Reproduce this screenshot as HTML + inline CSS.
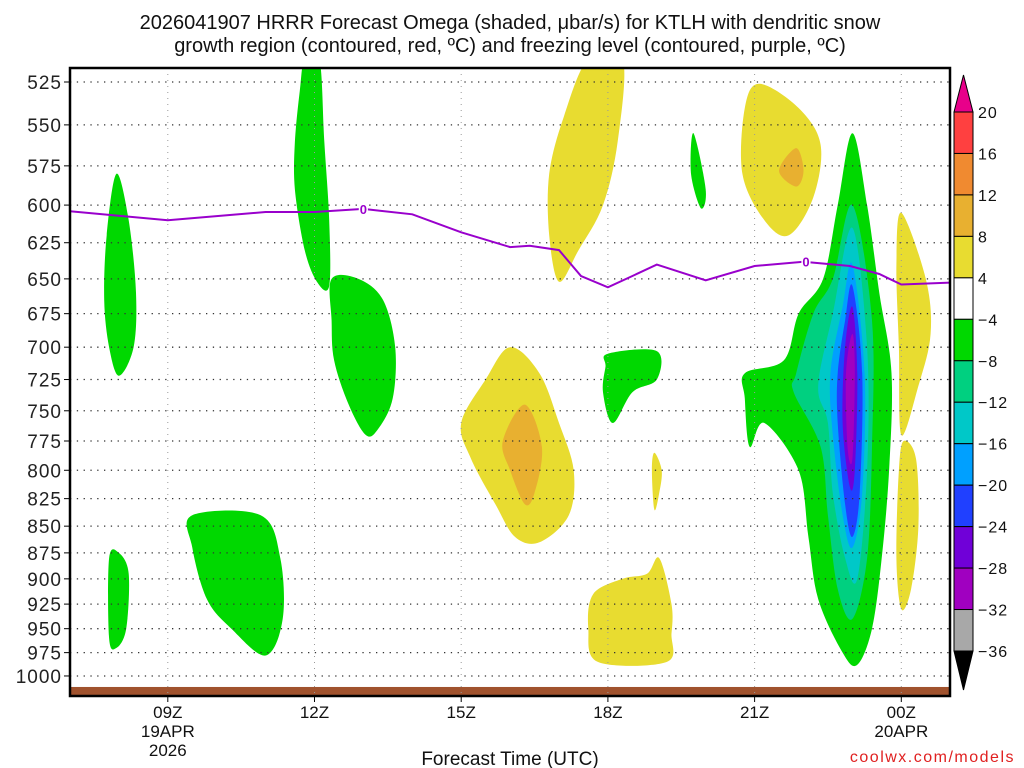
<!DOCTYPE html>
<html><head><meta charset="utf-8"><style>
html,body{margin:0;padding:0;background:#fff;width:1024px;height:768px;overflow:hidden}
svg{display:block;font-family:"Liberation Sans","DejaVu Sans",sans-serif}
</style></head><body>
<svg id="chart" width="1024" height="768" viewBox="0 0 1024 768">
<text x="510" y="29" font-size="20" text-anchor="middle" fill="#111">2026041907 HRRR Forecast Omega (shaded, μbar/s) for KTLH with dendritic snow</text>
<text x="510" y="52" font-size="20" text-anchor="middle" fill="#111">growth region (contoured, red, ºC) and freezing level (contoured, purple, ºC)</text>
<g id="plot"></g>
<text x="510" y="765" font-size="19" text-anchor="middle" fill="#111">Forecast Time (UTC)</text>
<text x="1015" y="762" font-size="16" text-anchor="end" fill="#e02020" letter-spacing="1.5">coolwx.com/models</text>
</svg>
<script>
const pTicks=[525,550,575,600,625,650,675,700,725,750,775,800,825,850,875,900,925,950,975,1000];
const xTickHours=[9,12,15,18,21,24];
const xTickLabels=[["09Z","19APR","2026"],["12Z"],["15Z"],["18Z"],["21Z"],["00Z","20APR"]];
const cbLevels=["20","16","12","8","4","−4","−8","−12","−16","−20","−24","−28","−32","−36"];
const cbColors=["#ff4040","#f08a30","#e8b030","#e8dc30","#ffffff","#00d800","#00d080","#00c8c8","#00a0ff","#2040ff","#7000d8","#a000c0","#a8a8a8"];
// shaded omega regions: [hourUTC (24=00Z), hPa]
const greenA=[[7.95,580],[8.2,610],[8.35,660],[8.3,700],[8.0,722],[7.8,700],[7.7,665],[7.75,620]];
const green12=[[11.8,512],[12.1,512],[12.2,560],[12.3,610],[12.3,655],[12.05,652],[11.8,630],[11.6,590],[11.6,560],[11.7,530]];
const green13=[[12.35,650],[12.9,650],[13.4,665],[13.65,700],[13.6,740],[13.3,765],[13.05,770],[12.7,745],[12.4,710],[12.35,680]];
const greenLow=[[9.5,840],[10.9,840],[11.3,880],[11.35,940],[11.0,978],[10.3,950],[9.8,920],[9.5,870]];
const greenSmall=[[7.8,880],[8.0,875],[8.2,895],[8.15,950],[7.95,970],[7.8,960]];
const yellowTop17=[[17.6,512],[18.3,512],[18.2,560],[17.9,600],[17.4,630],[17.0,652],[16.8,620],[16.8,580],[17.1,545]];
const green20=[[19.75,555],[20.0,590],[19.9,602],[19.7,580]];
const yellow22=[[21.1,526],[21.9,540],[22.35,562],[22.2,595],[21.7,620],[21.2,610],[20.75,580],[20.8,540]];
const orange22=[[21.85,564],[22.0,578],[21.85,588],[21.5,578]];
const yellow16=[[16.0,700],[16.6,720],[17.0,760],[17.3,800],[17.2,840],[16.6,865],[16.1,860],[15.7,830],[15.2,790],[15.0,760],[15.5,725]];
const orange16=[[16.3,745],[16.65,780],[16.5,820],[16.3,830],[16.0,800],[15.85,775]];
const green18=[[18.0,705],[19.0,703],[19.0,725],[18.5,735],[18.1,760],[17.9,735],[17.95,715]];
const yellow19=[[18.95,785],[19.1,800],[19.05,820],[18.95,835],[18.9,800]];
const yellowLow18=[[19.05,880],[19.3,925],[19.3,955],[19.2,985],[17.8,985],[17.6,950],[17.7,915],[18.3,900],[18.8,895]];
const bigGreen=[[23.0,555],[23.3,600],[23.55,660],[23.8,720],[23.75,800],[23.6,880],[23.4,950],[23.1,988],[22.8,975],[22.3,920],[22.1,860],[21.9,800],[21.2,760],[20.9,780],[20.8,740],[20.8,720],[21.6,710],[21.9,675],[22.4,650],[22.7,600]];
const bigTeal=[[23.0,600],[23.4,680],[23.4,780],[23.3,880],[23.0,940],[22.7,910],[22.5,840],[22.35,780],[21.8,735],[21.85,720],[22.2,675],[22.6,650]];
const bigCyan=[[23.0,615],[23.3,700],[23.3,800],[23.1,900],[22.85,880],[22.6,820],[22.5,760],[22.3,730],[22.6,675]];
const bigSky=[[23.0,640],[23.25,720],[23.2,820],[23.0,870],[22.8,840],[22.6,770],[22.55,720],[22.8,670]];
const bigBlue=[[23.0,655],[23.2,720],[23.15,820],[23.0,860],[22.85,830],[22.7,760],[22.7,720],[22.85,680]];
const bigViolet=[[23.0,670],[23.1,720],[23.05,800],[22.95,815],[22.8,760],[22.85,700]];
const bigPurple=[[23.0,690],[23.05,720],[23.0,790],[22.9,780],[22.87,720]];
const yellow00a=[[24.0,605],[24.5,650],[24.6,690],[24.35,730],[24.0,770],[23.95,700],[23.9,640]];
const yellow00b=[[24.05,775],[24.3,790],[24.35,850],[24.2,910],[24.0,930],[23.9,880],[23.95,800]];
const regions=[
 ["green-region-08z",greenA,"#00d800"],["green-region-12z",green12,"#00d800"],["green-region-13z",green13,"#00d800"],
 ["green-region-10z-low",greenLow,"#00d800"],["green-region-08z-low",greenSmall,"#00d800"],
 ["yellow-region-17z-top",yellowTop17,"#e8dc30"],["green-region-20z",green20,"#00d800"],
 ["yellow-region-22z",yellow22,"#e8dc30"],["orange-region-22z",orange22,"#e8b030"],
 ["yellow-region-16z",yellow16,"#e8dc30"],["orange-region-16z",orange16,"#e8b030"],
 ["green-region-18z",green18,"#00d800"],["yellow-region-19z",yellow19,"#e8dc30"],["yellow-region-18z-low",yellowLow18,"#e8dc30"],
 ["big-green",bigGreen,"#00d800"],["big-teal",bigTeal,"#00d080"],["big-cyan",bigCyan,"#00c8c8"],["big-sky",bigSky,"#00a0ff"],
 ["big-blue",bigBlue,"#2040ff"],["big-violet",bigViolet,"#7000d8"],["big-purple",bigPurple,"#a000c0"],
 ["yellow-region-00z-upper",yellow00a,"#e8dc30"],["yellow-region-00z-lower",yellow00b,"#e8dc30"]
];
const frzHours=[7,9,11,12,13,14,15,16,16.4,17,17.45,18,18.5,19,20,21,22,22.95,23.55,24,25];
const frzPres=[604,610,604.5,604.5,602.5,606,618,628,627,630,648,656,648,640,651,641,638,641,646.6,654,652.6];
const surfacePres=1012;

const NS="http://www.w3.org/2000/svg";
const L=70,R=950,T=68,B=696;
const xs=h=>70+(h-7)*48.9;
const ys=p=>82+921.8*Math.log(p/525);
const g=document.getElementById('plot');
function mk(tag,attrs,parent){const e=document.createElementNS(NS,tag);for(const k in attrs)e.setAttribute(k,attrs[k]);(parent||g).appendChild(e);return e;}
function smooth(pts){
  const n=pts.length;let d="M"+pts[0][0].toFixed(1)+","+pts[0][1].toFixed(1);
  for(let i=0;i<n;i++){
    const p0=pts[(i-1+n)%n],p1=pts[i],p2=pts[(i+1)%n],p3=pts[(i+2)%n];
    const c1=[p1[0]+(p2[0]-p0[0])/6,p1[1]+(p2[1]-p0[1])/6];
    const c2=[p2[0]-(p3[0]-p1[0])/6,p2[1]-(p3[1]-p1[1])/6];
    d+=" C"+c1.map(v=>v.toFixed(1)).join(",")+" "+c2.map(v=>v.toFixed(1)).join(",")+" "+p2.map(v=>v.toFixed(1)).join(",");
  }
  return d+" Z";
}
const defs=mk('defs',{});const cp=mk('clipPath',{id:'clip'},defs);mk('rect',{x:L,y:T,width:R-L,height:B-T},cp);
const shade=mk('g',{'clip-path':'url(#clip)'});


regions.forEach(r=>{
  const pts=r[1].map(q=>[xs(q[0]),ys(q[1])]);
  const e=mk('path',{d:smooth(pts),fill:r[2]},shade);
  
  
});
const band=mk('rect',{x:L,y:ys(surfacePres),width:R-L,height:B-ys(surfacePres),fill:'#a0522d'},shade);


pTicks.forEach(p=>{
  const y=ys(p);
  const ln=mk('line',{x1:L,x2:R,y1:y,y2:y,stroke:'#333','stroke-width':1.3,'stroke-dasharray':'1.3 5.5'});
  
  
  mk('line',{x1:L-6,x2:L,y1:y,y2:y,stroke:'#000','stroke-width':1});
  const t=mk('text',{x:L-8,y:y+7,'font-size':19,'text-anchor':'end',fill:'#222','letter-spacing':'1'});
  t.textContent=p;
  
  
});
xTickHours.forEach((h,i)=>{
  const x=xs(h);
  const ln=mk('line',{x1:x,x2:x,y1:T,y2:B,stroke:'#999','stroke-width':1,'stroke-dasharray':'1 5'});
  
  
  mk('line',{x1:x,x2:x,y1:B,y2:B+6,stroke:'#000','stroke-width':1});
  xTickLabels[i].forEach((s,j)=>{
    const t=mk('text',{x:x,y:B+22+j*19,'font-size':17,'text-anchor':'middle',fill:'#111'});
    t.textContent=s;
    
    
  });
});
const fl=mk('polyline',{points:frzHours.map((h,i)=>xs(h).toFixed(1)+","+ys(frzPres[i]).toFixed(1)).join(" "),fill:'none',stroke:'#9900cc','stroke-width':2,'clip-path':'url(#clip)'});


[[13,frzPres[4]],[22.05,frzPres[16]]].forEach((q,i)=>{
  const t=mk('text',{x:xs(q[0]),y:ys(q[1])+5,'font-size':13,'text-anchor':'middle',fill:'#9900cc','font-weight':'bold',stroke:'#fff','stroke-width':3,'paint-order':'stroke'});
  t.textContent='0';
  
  
});
const fr=mk('rect',{x:L,y:T,width:R-L,height:B-T,fill:'none',stroke:'#000','stroke-width':2.5});


const cb=mk('g',{});


const cbX=954,cbW=19,cbTop=112,cbH=(651-112)/cbColors.length;
const tri1=mk('polygon',{points:`${cbX},${cbTop} ${cbX+cbW},${cbTop} ${cbX+cbW/2},75`,fill:'#e8008a',stroke:'#000','stroke-width':1},cb);


cbColors.forEach((c,i)=>{
  const r=mk('rect',{x:cbX,y:cbTop+i*cbH,width:cbW,height:cbH,fill:c,stroke:'#000','stroke-width':1},cb);
  
  
});
const bot=cbTop+cbColors.length*cbH;
const tri2=mk('polygon',{points:`${cbX},${bot} ${cbX+cbW},${bot} ${cbX+cbW/2},690`,fill:'#000',stroke:'#000','stroke-width':1},cb);


cbLevels.forEach((s,i)=>{
  const t=mk('text',{x:978,y:cbTop+i*cbH+6,'font-size':16,fill:'#111','letter-spacing':'1'},cb);
  t.textContent=s;
  
  
});
</script>
</body></html>
